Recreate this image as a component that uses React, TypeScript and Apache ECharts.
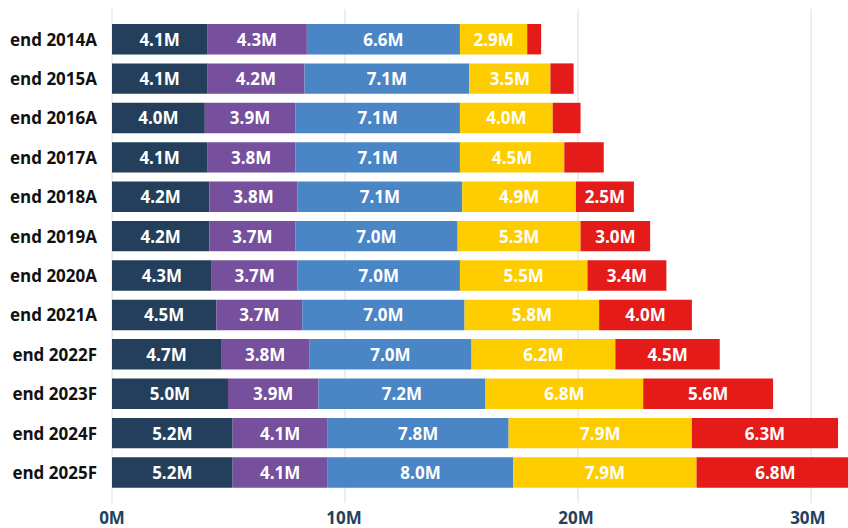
import React, { useEffect, useRef } from "react";
import * as echarts from "echarts";

const categories = [
  "end 2014A", "end 2015A", "end 2016A", "end 2017A", "end 2018A", "end 2019A",
  "end 2020A", "end 2021A", "end 2022F", "end 2023F", "end 2024F", "end 2025F",
];
const seriesNames = ["Segment A", "Segment B", "Segment C", "Segment D", "Segment E"];
const valuesA = [4.1, 4.1, 4.0, 4.1, 4.2, 4.2, 4.3, 4.5, 4.7, 5.0, 5.2, 5.2];
const valuesB = [4.3, 4.2, 3.9, 3.8, 3.8, 3.7, 3.7, 3.7, 3.8, 3.9, 4.1, 4.1];
const valuesC = [6.6, 7.1, 7.1, 7.1, 7.1, 7.0, 7.0, 7.0, 7.0, 7.2, 7.8, 8.0];
const valuesD = [2.9, 3.5, 4.0, 4.5, 4.9, 5.3, 5.5, 5.8, 6.2, 6.8, 7.9, 7.9];
const valuesE = [0.6, 1.0, 1.2, 1.7, 2.5, 3.0, 3.4, 4.0, 4.5, 5.6, 6.3, 6.8];
const tickValues = [0, 10, 20, 30];

const colors = ["#243F5B", "#764F9D", "#4A86C6", "#FECD00", "#E41B19"];

export default function App() {
  const ref = useRef<HTMLDivElement>(null);
  useEffect(() => {
    if (!ref.current) return;
    const chart = echarts.init(ref.current, null, { renderer: "svg" });
    const font = "'Open Sans', 'Noto Sans', sans-serif";
    const allValues = [valuesA, valuesB, valuesC, valuesD, valuesE];
    const left = 112;
    const right = 0;
    const axisMax = 31.6;
    chart.setOption({
      animation: false,
      grid: [
        { left, right, top: 9, bottom: 25, containLabel: false },
        { left, right, top: 19.5, bottom: 35.8, containLabel: false },
      ],
      xAxis: [
        {
          gridIndex: 0, type: "value", min: 0, max: axisMax, interval: 10,
          axisLabel: { show: false }, axisLine: { show: false }, axisTick: { show: false },
          splitLine: {
            show: true,
            lineStyle: { color: "#e9e9e9", width: 1.5 },
            showMaxLine: false,
          },
        },
        {
          gridIndex: 1, type: "value", min: 0, max: axisMax, interval: 10,
          axisLine: { show: false }, axisTick: { show: false }, splitLine: { show: false },
          axisLabel: {
            margin: 17,
            fontFamily: font, fontWeight: "bold", fontSize: 17, color: "#23405C",
            formatter: (v: number) => (tickValues.includes(v) ? `${v}M` : ""),
          },
        },
      ],
      yAxis: [
        { gridIndex: 0, type: "value", show: false },
        {
          gridIndex: 1, type: "category", data: categories, inverse: true,
          axisLine: { show: false }, axisTick: { show: false },
          axisLabel: {
            margin: 15, fontFamily: font, fontWeight: "bold", fontSize: 17, color: "#111111",
          },
        },
      ],
      series: allValues.map((vals, i) => ({
        name: seriesNames[i],
        type: "bar",
        stack: "total",
        xAxisIndex: 1,
        yAxisIndex: 1,
        barCategoryGap: "22.8%",
        clip: false,
        data: vals,
        itemStyle: { color: colors[i] },
        label: {
          show: true,
          position: "inside",
          color: "#ffffff",
          fontFamily: font,
          fontWeight: "bold",
          fontSize: 17,
          formatter: (p: any) => (p.value < 2 ? "" : `${p.value.toFixed(1)}M`),
        },
      })),
    });
    return () => chart.dispose();
  }, []);
  return <div ref={ref} style={{ width: 848, height: 528, position: "absolute", left: 0, top: 0 }} />;
}
